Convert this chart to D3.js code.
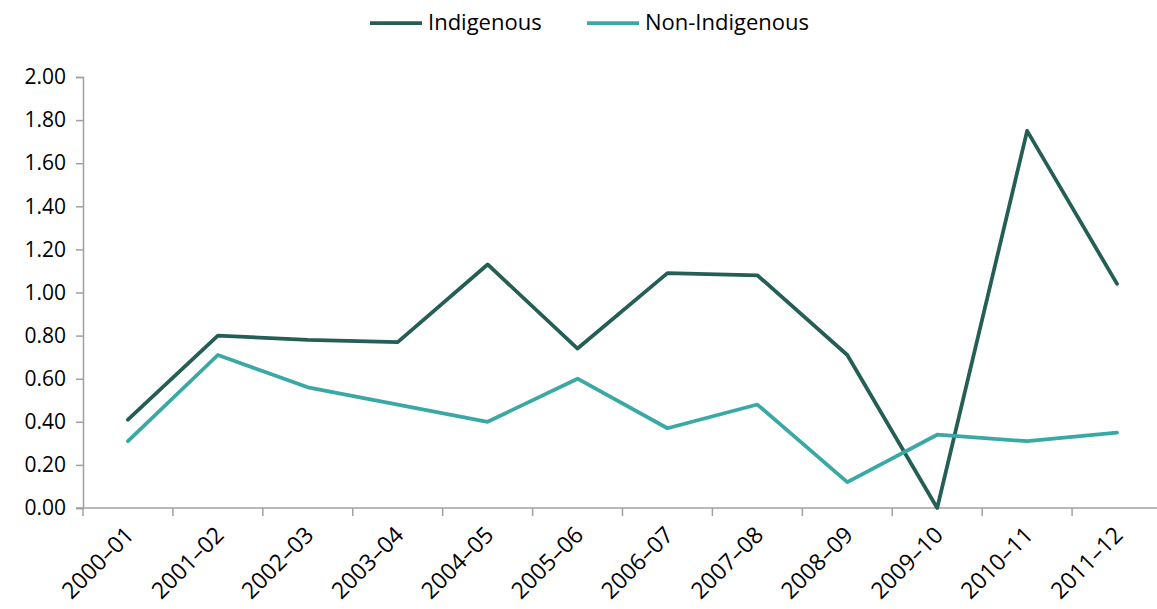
<!DOCTYPE html>
<html>
<head>
<script src="https://d3js.org/d3.v7.min.js"></script>
<style>
    body { margin: 0; background: #fff; font-family: "Open Sans", "Liberation Sans", sans-serif; }
    svg { display: block; }
</style>
</head>
<body>
<script>
    const width = 1157, height = 609;

    const years = ["2000–01", "2001–02", "2002–03", "2003–04", "2004–05", "2005–06",
        "2006–07", "2007–08", "2008–09", "2009–10", "2010–11", "2011–12"];
    const indigenous = [0.41, 0.80, 0.78, 0.77, 1.13, 0.74, 1.09, 1.08, 0.71, 0.00, 1.75, 1.04];
    const nonIndigenous = [0.31, 0.71, 0.56, 0.48, 0.40, 0.60, 0.37, 0.48, 0.12, 0.34, 0.31, 0.35];
    const yTicks = [0, 0.2, 0.4, 0.6, 0.8, 1.0, 1.2, 1.4, 1.6, 1.8, 2.0];

    const series = [
        { name: "Indigenous", values: indigenous, color: "#245e55" },
        { name: "Non-Indigenous", values: nonIndigenous, color: "#3aa9a5" }
    ];

    const svg = d3.select("body").append("svg").attr("width", width).attr("height", height);

    const x = d3.scaleBand().domain(years).range([83, 1162]);
    const y = d3.scaleLinear().domain([0, 2]).range([508, 77]);

    // y axis
    const yAxis = svg.append("g")
        .attr("transform", "translate(83,0)")
        .call(d3.axisLeft(y).tickValues(yTicks).tickFormat(d3.format(".2f")).tickSizeOuter(0).tickSize(7).tickPadding(10));
    yAxis.select(".domain").attr("stroke", "#a0a0a0").attr("stroke-width", 1.5);
    yAxis.selectAll(".tick line").attr("stroke", "#a0a0a0").attr("stroke-width", 1.5);
    yAxis.selectAll("text").attr("font-size", 21).attr("fill", "#000")
        .attr("font-family", "'Open Sans', sans-serif");

    // x axis with ticks at band boundaries
    const xAxis = svg.append("g").attr("transform", "translate(0,508)");
    xAxis.append("line").attr("x1", 76).attr("x2", 1162)
        .attr("stroke", "#a0a0a0").attr("stroke-width", 1.5);
    const boundaries = years.map(d => x(d));
    xAxis.selectAll(".tk").data(boundaries).enter().append("line")
        .attr("x1", d => d).attr("x2", d => d).attr("y1", 0).attr("y2", 8)
        .attr("stroke", "#a0a0a0").attr("stroke-width", 1.5);
    xAxis.selectAll(".lbl").data(years).enter().append("text")
        .attr("transform", d => `translate(${x(d) + x.bandwidth() / 2 + 3},${24}) rotate(-45)`)
        .attr("text-anchor", "end")
        .attr("dominant-baseline", "middle")
        .attr("font-size", 23)
        .attr("fill", "#000")
        .text(d => d);

    const line = d3.line()
        .x((d, i) => x(years[i]) + x.bandwidth() / 2)
        .y(d => y(d));

    svg.selectAll(".series").data(series).enter().append("path")
        .attr("fill", "none")
        .attr("stroke", d => d.color)
        .attr("stroke-width", 3.75)
        .attr("stroke-linejoin", "round")
        .attr("stroke-linecap", "round")
        .attr("d", d => line(d.values));

    // legend
    const legendPos = [370, 587];
    series.forEach((s, i) => {
        const g = svg.append("g").attr("transform", `translate(${legendPos[i]},23)`);
        g.append("line").attr("x1", 0).attr("x2", 52).attr("stroke", s.color).attr("stroke-width", 3.75);
        g.append("text").attr("x", 58).attr("y", 1).attr("dominant-baseline", "middle")
            .attr("font-size", 22).attr("fill", "#000").text(s.name);
    });
</script>
</body>
</html>
